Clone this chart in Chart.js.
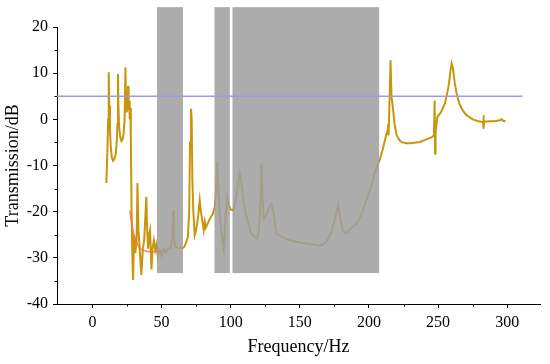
<!DOCTYPE html>
<html><head><meta charset="utf-8">
<script src="https://cdn.jsdelivr.net/npm/chart.js@4/dist/chart.umd.min.js"></script>
<style>html,body{margin:0;padding:0;background:#fff;}#wrap{width:550px;height:364px;}</style>
</head><body><div id="wrap"><canvas id="c" width="550" height="364"></canvas></div>
<script>
// Main transmission curve (Hz, dB)
const goldFreq = [10.1,10.8,11.4,11.8,12.2,12.7,13.3,14,14.9,15.8,16.8,17.6,18.1,18.5,18.8,19.3,20,21,21.8,22.6,23.3,23.9,24.3,24.8,25.3,25.8,26.2,26.6,27,27.4,27.8,28.3,28.8,29.4,30.2,31,32,32.6,33.3,34,35.4,36.5,37.5,39,39.6,40.3,41,41.7,42.7,43.5,44.5,45.5,46.5,47.3,48.5,50,51.5,53,55,57,58,58.4,58.9,59.8,62,65,66.5,68,69,70,70.6,71.3,71.8,72.3,73,74,75,76.5,77.6,78.5,79.5,80.5,81.3,82,83.5,85,87,88.5,89.5,90.2,91,92,93,95,96.2,97.4,98.5,100,101.7,103,105,106.6,107.5,109,111,113,115,117.4,119,120.5,121.5,122.3,123,124,126,128,129.5,131,133,136,139,142.8,150,157,164.5,167,169.3,172,175,177.7,179,181,182.6,185,188,191,194,197,199,200.6,202,204.3,206,207.9,210,212.7,213.5,214,214.2,214.8,215.6,216.3,217.5,218.5,220,222,224,227.2,230,236.8,241,245.3,247,247.5,247.8,248.2,249.4,252,255,257.5,259.2,259.8,260.8,262,263.4,265.5,268,270.6,275,279,282.5,282.8,283,283.3,287,291,294.7,296,297,298.8];
const goldDb = [-13.8,-7,0,10.2,3,-2.5,-6,-8.2,-9,-8.7,-7.6,-5,-1,9.8,3,-1.5,-3.6,-4.7,-4.4,-3,0,11.3,3,1.5,3,7.2,2,4,0,2.5,-4,-19,-28,-34.8,-25,-29,-26,-13.8,-24,-27,-33.7,-28,-26,-16.8,-24,-28,-25,-24,-32.5,-28,-26.2,-28.3,-27,-29.8,-28.5,-29.5,-28.2,-28.8,-28,-27.8,-24,-19.7,-25,-27.6,-27.8,-27.9,-27.6,-26.5,-25.5,-20,-5,2.3,0,-13.2,-20,-25.1,-24,-21,-17.5,-20,-22,-24,-22.2,-23.5,-22.5,-21.5,-20.5,-19,-15,-9.2,-14,-20,-24,-28,-22,-16.8,-18.5,-19.5,-19.7,-18.5,-15,-11.7,-13,-17,-20.5,-23,-24.8,-25.5,-25.8,-24,-18,-9.6,-17,-21.5,-20.5,-18.8,-18.3,-20,-24.7,-25.3,-25.8,-26.2,-26.7,-27,-27.3,-27.1,-26.5,-25,-22,-18.6,-21,-24,-24.7,-24.3,-23.3,-22.6,-21,-18.5,-16.8,-15.3,-14,-11.4,-10,-8.7,-6.5,-3.1,-2.5,-1,-3.5,3,12.8,5,2,-1,-3.4,-4.5,-5,-5.2,-5.2,-4.9,-4.4,-3.9,-3.5,4.1,-7.4,-3,0.5,1.5,3.5,7,11,12.1,11,8,5.6,3.3,1.8,0.9,0,-0.4,-0.6,0.9,-2,-0.5,-0.4,-0.4,-0.2,0,-0.3,-0.4];
// Secondary (orange) curve
const orangeFreq = [27,29,31,34.3,38,43.9,50,56];
const orangeDb = [-19.7,-23.5,-26,-27.9,-28.5,-28.7,-28.5,-27.9];
// Reference level line
const refLevel = 5;
const refFrom = -25.6, refTo = 311;
// Shaded bands (Hz) and their dB extent
const bandStart = [46.7, 88.3, 101.3];
const bandEnd = [65.5, 99.4, 207.4];
const bandTop = 24.3, bandBottom = -33.3;
// Axis ticks
const xTicks = [0,50,100,150,200,250,300];
const xMinor = [25,75,125,175,225,275];
const yTicks = [-40,-30,-20,-10,0,10,20];
const yMinor = [-35,-25,-15,-5,5,15];

const pts = (xs, ys) => xs.map((x,i)=>({x:x, y:ys[i]}));

const bandPlugin = {
  id:'bands',
  afterDatasetDraw(chart, args){
    if (args.index !== 1) return;
    const {ctx, scales:{x,y}} = chart;
    ctx.save();
    ctx.fillStyle = 'rgba(158,158,158,0.86)';
    for (let i=0;i<bandStart.length;i++){
      const x0 = x.getPixelForValue(bandStart[i]), x1 = x.getPixelForValue(bandEnd[i]);
      const y0 = y.getPixelForValue(bandTop), y1 = y.getPixelForValue(bandBottom);
      ctx.fillRect(x0, y0, x1-x0, y1-y0);
    }
    ctx.restore();
  },
  afterDraw(chart){
    const {ctx, scales:{x,y}} = chart;
    ctx.save();
    ctx.strokeStyle = '#000'; ctx.lineWidth = 1;
    ctx.beginPath();
    const yb = y.bottom;
    xMinor.forEach(v=>{const px=Math.round(x.getPixelForValue(v))+0.5; ctx.moveTo(px,yb); ctx.lineTo(px,yb+2.5);});
    const xl = x.left;
    yMinor.forEach(v=>{const py=Math.round(y.getPixelForValue(v))+0.5; ctx.moveTo(xl,py); ctx.lineTo(xl-2.5,py);});
    ctx.stroke();
    ctx.restore();
  }
};

new Chart(document.getElementById('c'), {
  type:'scatter',
  data:{datasets:[
    {data:pts(goldFreq,goldDb), showLine:true, borderColor:'#c8960c', borderWidth:2, pointRadius:0, tension:0, order:3},
    {data:pts(orangeFreq,orangeDb), showLine:true, borderColor:'rgba(255,105,60,0.8)', borderWidth:1.5, pointRadius:0, tension:0.3, order:2},
    {data:[{x:refFrom,y:refLevel},{x:refTo,y:refLevel}], showLine:true, borderColor:'#9a9aec', borderWidth:1.5, pointRadius:0, order:1}
  ]},
  options:{
    responsive:false, animation:false,
    layout:{padding:{left:0,right:10,top:27,bottom:0}},
    plugins:{legend:{display:false}, tooltip:{enabled:false}},
    scales:{
      x:{type:'linear', min:-25.6, max:323.7,
        afterBuildTicks:s=>{s.ticks = xTicks.map(v=>({value:v}));},
        afterFit:s=>{s.height = 60;},
        border:{display:true,color:'#000',width:1},
        grid:{display:true,drawOnChartArea:false,drawTicks:true,tickLength:4,color:'#000'},
        ticks:{color:'#000',padding:5,maxRotation:0,font:{family:'Liberation Serif',size:16}},
        title:{display:true,text:'Frequency/Hz',color:'#000',padding:{top:0,bottom:6},font:{family:'Liberation Serif',size:18}}
      },
      y:{type:'linear', min:-40, max:20,
        afterBuildTicks:s=>{s.ticks = yTicks.map(v=>({value:v}));},
        afterFit:s=>{s.width = 57;},
        border:{display:true,color:'#000',width:1},
        grid:{display:true,drawOnChartArea:false,drawTicks:true,tickLength:4,color:'#000'},
        ticks:{color:'#000',padding:5,font:{family:'Liberation Serif',size:16}},
        title:{display:true,text:'Transmission/dB',color:'#000',padding:{top:2,bottom:0},font:{family:'Liberation Serif',size:18}}
      }
    }
  },
  plugins:[bandPlugin]
});
</script></body></html>
